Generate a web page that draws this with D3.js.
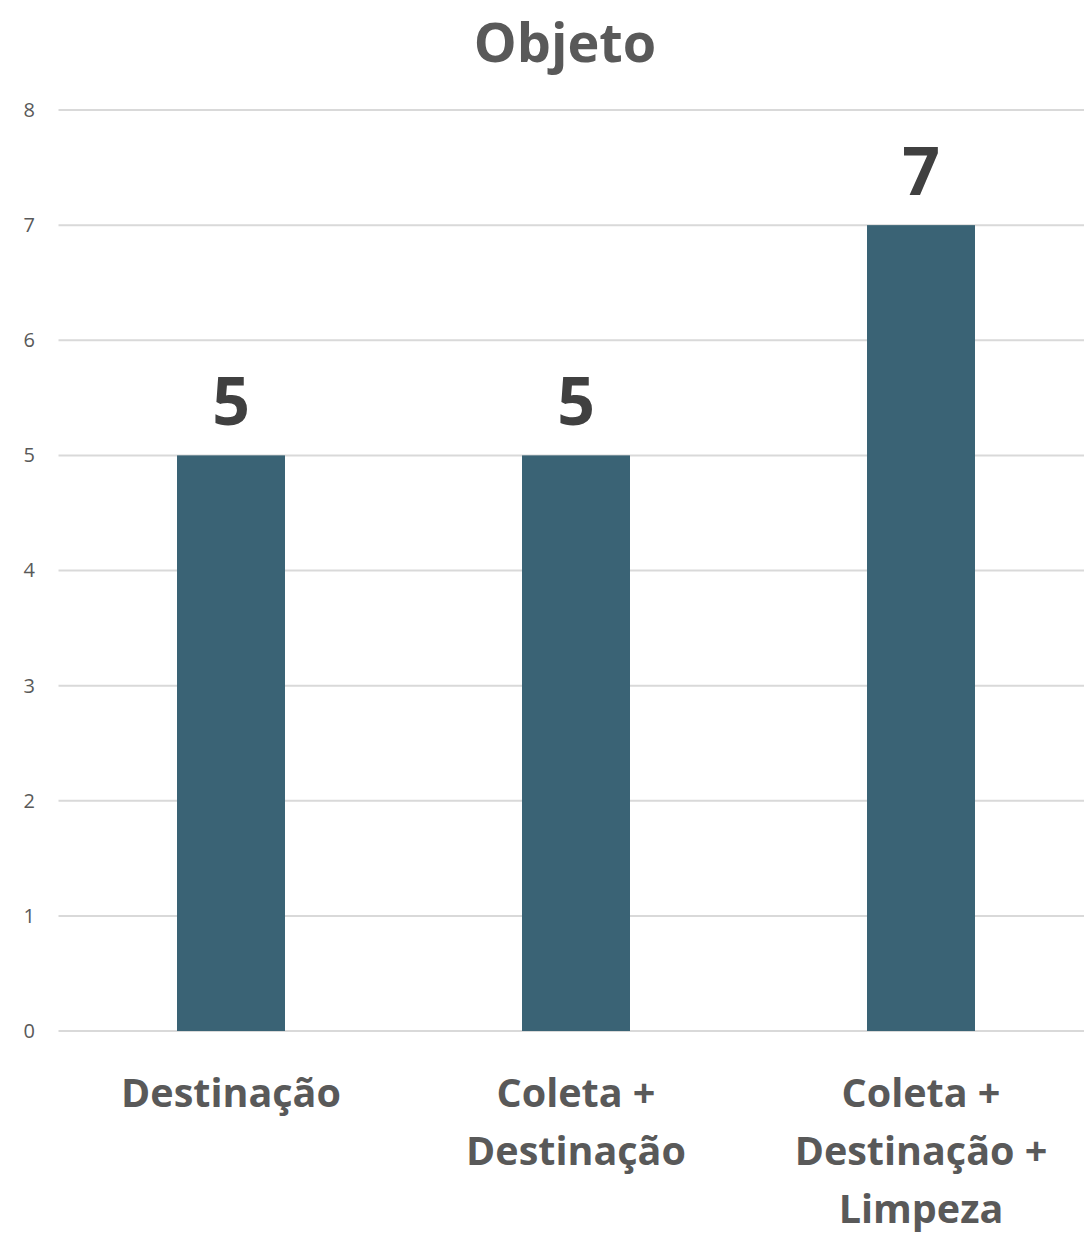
<!DOCTYPE html>
<html>
<head>
<meta charset="utf-8">
<script src="https://cdn.jsdelivr.net/npm/d3@7"></script>
<style>
  html, body { margin: 0; padding: 0; background: #ffffff; }
  svg { display: block; }
</style>
</head>
<body>
<svg id="chart" width="1084" height="1234"></svg>
<script>
// Chart data
const title = "Objeto";
const categories = [
  ["Destinação"],
  ["Coleta +", "Destinação"],
  ["Coleta +", "Destinação +", "Limpeza"]
];
const values = [5, 5, 7];
const yTicks = [0, 1, 2, 3, 4, 5, 6, 7, 8];

const W = 1084, H = 1234;
const plot = { left: 58.5, right: 1093.5, top: 110, bottom: 1031 };
const font = "'Open Sans', 'Noto Sans', sans-serif";

const svg = d3.select("#chart");

const x = d3.scaleBand()
  .domain(d3.range(values.length))
  .range([plot.left, plot.right])
  .paddingInner(0.687)
  .paddingOuter(0.3435);

const y = d3.scaleLinear()
  .domain([0, 8])
  .range([plot.bottom, plot.top]);

// Horizontal gridlines
svg.append("g")
  .selectAll("line")
  .data(yTicks)
  .join("line")
  .attr("x1", plot.left)
  .attr("x2", W)
  .attr("y1", d => y(d))
  .attr("y2", d => y(d))
  .attr("stroke", "#d9d9d9")
  .attr("stroke-width", 2);

// Y axis labels
const yAxis = d3.axisLeft(y).tickValues(yTicks).tickSize(0).tickPadding(0);
const yg = svg.append("g")
  .attr("transform", "translate(35,0)")
  .call(yAxis);
yg.select(".domain").remove();
yg.selectAll("text")
  .attr("font-family", font)
  .attr("font-size", 20)
  .attr("fill", "#595959");

// Bars
svg.append("g")
  .selectAll("rect")
  .data(values)
  .join("rect")
  .attr("x", (d, i) => x(i))
  .attr("width", x.bandwidth())
  .attr("y", d => y(d))
  .attr("height", d => y(0) - y(d))
  .attr("fill", "#3a6375");

// Value labels
svg.append("g")
  .selectAll("text")
  .data(values)
  .join("text")
  .attr("x", (d, i) => x(i) + x.bandwidth() / 2)
  .attr("y", d => y(d) - 30)
  .attr("text-anchor", "middle")
  .attr("font-family", font)
  .attr("font-weight", 700)
  .attr("font-size", 66)
  .attr("fill", "#404040")
  .text(d => d);

// Category labels
const cat = svg.append("g")
  .selectAll("text")
  .data(categories)
  .join("text")
  .attr("x", (d, i) => x(i) + x.bandwidth() / 2)
  .attr("y", 1107)
  .attr("text-anchor", "middle")
  .attr("font-family", font)
  .attr("font-weight", 700)
  .attr("font-size", 39.5)
  .attr("fill", "#595959");
cat.selectAll("tspan")
  .data(d => d)
  .join("tspan")
  .attr("x", function () { return d3.select(this.parentNode).attr("x"); })
  .attr("dy", (d, i) => i === 0 ? 0 : 58)
  .text(d => d);

// Title
svg.append("text")
  .attr("x", 565)
  .attr("y", 62)
  .attr("text-anchor", "middle")
  .attr("font-family", font)
  .attr("font-weight", 700)
  .attr("font-size", 54)
  .attr("fill", "#595959")
  .text(title);
</script>
</body>
</html>
